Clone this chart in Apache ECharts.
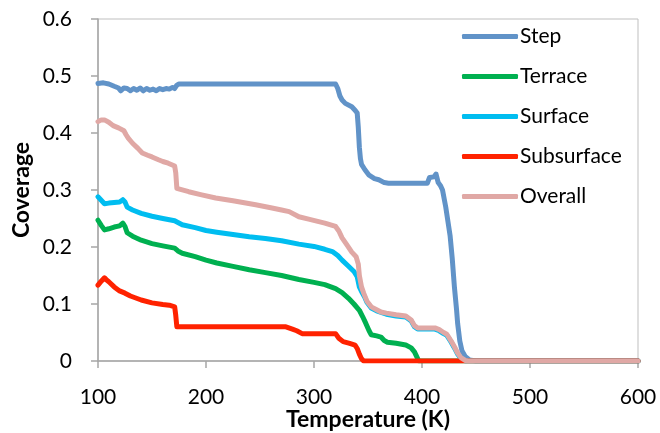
<!DOCTYPE html>
<html>
<head>
<meta charset="utf-8">
<script src="https://cdn.jsdelivr.net/npm/echarts@6/dist/echarts.min.js"></script>
<style>
html,body{margin:0;padding:0;background:#fff;}
#chart{width:660px;height:433px;}
</style>
</head>
<body>
<div id="chart"></div>
<script>
const seriesNames = ["Step", "Terrace", "Surface", "Subsurface", "Overall"];
const xTicks = [100, 200, 300, 400, 500, 600];
const yTicks = [0, 0.1, 0.2, 0.3, 0.4, 0.5, 0.6];

const stepData = [[100,0.487],[105,0.488],[110,0.486],[115,0.482],[119,0.479],[121,0.474],[124,0.479],[127,0.478],[130,0.474],[133,0.478],[136,0.475],[139,0.479],[142,0.474],[145,0.478],[148,0.475],[151,0.477],[154,0.474],[157,0.478],[160,0.476],[163,0.478],[166,0.477],[169,0.48],[171,0.478],[173,0.484],[175,0.486],[320,0.486],[322,0.478],[324,0.465],[326,0.458],[329,0.452],[335,0.446],[338,0.44],[340,0.435],[341,0.41],[342,0.375],[343,0.355],[344,0.345],[347,0.336],[351,0.326],[356,0.32],[360,0.318],[365,0.313],[369,0.312],[405,0.312],[407,0.322],[411,0.323],[413,0.328],[414,0.325],[415,0.313],[417,0.308],[419,0.3],[422,0.27],[424,0.245],[426,0.22],[428,0.18],[430,0.13],[432,0.09],[433,0.066],[435,0.035],[437,0.018],[440,0.008],[444,0.002],[450,0],[600,0]];

const terraceData = [[100,0.247],[103,0.238],[106,0.23],[110,0.232],[115,0.235],[120,0.237],[123,0.242],[125,0.236],[127,0.225],[132,0.219],[140,0.212],[150,0.206],[160,0.202],[171,0.198],[174,0.193],[178,0.189],[190,0.183],[200,0.177],[210,0.172],[225,0.166],[240,0.16],[255,0.155],[270,0.15],[286,0.143],[300,0.138],[310,0.134],[320,0.127],[326,0.12],[332,0.11],[337,0.1],[342,0.089],[345,0.078],[348,0.066],[351,0.053],[353,0.046],[358,0.044],[362,0.042],[365,0.036],[368,0.033],[376,0.031],[385,0.028],[390,0.023],[393,0.016],[395,0.008],[397,0],[600,0]];

const surfaceData = [[100,0.288],[103,0.282],[106,0.276],[110,0.277],[115,0.278],[120,0.279],[123,0.283],[125,0.279],[127,0.27],[132,0.265],[140,0.259],[150,0.254],[160,0.25],[171,0.246],[174,0.243],[178,0.239],[190,0.234],[200,0.229],[210,0.226],[225,0.222],[240,0.218],[255,0.215],[270,0.211],[286,0.205],[300,0.201],[310,0.196],[317,0.192],[322,0.185],[326,0.177],[331,0.168],[337,0.157],[340,0.148],[342,0.13],[344,0.122],[347,0.112],[349,0.103],[353,0.093],[358,0.088],[367,0.082],[376,0.079],[385,0.077],[390,0.07],[393,0.06],[396,0.056],[412,0.056],[416,0.053],[420,0.048],[423,0.045],[427,0.033],[430,0.023],[433,0.012],[436,0.005],[440,0],[600,0]];

const subsurfaceData = [[100,0.133],[103,0.14],[106,0.146],[108,0.142],[110,0.139],[115,0.13],[120,0.123],[125,0.119],[130,0.114],[140,0.107],[150,0.102],[160,0.099],[166,0.098],[171,0.095],[172,0.08],[173,0.06],[274,0.06],[280,0.056],[284,0.053],[289,0.048],[320,0.048],[323,0.04],[327,0.034],[333,0.031],[338,0.028],[340,0.022],[342,0.012],[344,0.004],[346,0],[600,0]];

const overallData = [[100,0.42],[103,0.423],[106,0.423],[110,0.419],[114,0.413],[119,0.409],[124,0.404],[126,0.397],[128,0.391],[132,0.382],[137,0.373],[141,0.365],[146,0.361],[150,0.358],[156,0.353],[160,0.35],[165,0.347],[171,0.342],[172,0.33],[173,0.303],[184,0.297],[195,0.292],[209,0.286],[225,0.281],[246,0.274],[260,0.269],[270,0.265],[277,0.262],[286,0.253],[295,0.249],[310,0.242],[320,0.236],[323,0.228],[326,0.216],[330,0.205],[335,0.191],[339,0.183],[341,0.17],[342,0.15],[344,0.13],[346,0.119],[349,0.105],[353,0.095],[358,0.09],[362,0.086],[367,0.084],[376,0.081],[385,0.079],[390,0.072],[393,0.062],[396,0.058],[412,0.058],[416,0.055],[420,0.05],[423,0.047],[427,0.035],[430,0.025],[433,0.014],[436,0.006],[440,0.001],[443,0],[600,0]];

const allData = [stepData, terraceData, surfaceData, subsurfaceData, overallData];
const colors = ["#6193C8", "#00B050", "#00BDF0", "#FF2200", "#E0A8A5"];

const FONT = "Lato";
const chart = echarts.init(document.getElementById("chart"), null, {renderer: "canvas"});
chart.setOption({
  animation: false,
  backgroundColor: "#ffffff",
  textStyle: {fontFamily: FONT, color: "#000"},
  grid: {left: 98, right: 22, top: 19, bottom: 72, containLabel: false, outerBoundsMode: "none", show: true, borderColor: "#BFBFBF", borderWidth: 1, backgroundColor: "transparent"},
  legend: {
    orient: "vertical",
    left: 457,
    top: 21,
    icon: "roundRect",
    itemWidth: 56,
    itemHeight: 5,
    itemGap: 19,
    data: seriesNames,
    textStyle: {fontFamily: FONT, fontSize: 21, color: "#000", padding: [0,0,0,-3]}
  },
  xAxis: {
    type: "value",
    min: xTicks[0],
    max: xTicks[xTicks.length - 1],
    interval: xTicks[1] - xTicks[0],
    name: "Temperature (K)",
    nameLocation: "middle",
    nameGap: 47,
    nameMoveOverlap: false,
    nameTextStyle: {fontFamily: FONT, fontSize: 23, fontWeight: "bold", color: "#000"},
    axisLine: {show: true, lineStyle: {color: "#A6A6A6", width: 1.5}},
    axisTick: {show: true, inside: false, length: 7, lineStyle: {color: "#A6A6A6", width: 1.5}},
    axisLabel: {fontFamily: FONT, fontSize: 21, color: "#000", margin: 26},
    splitLine: {show: false}
  },
  yAxis: {
    type: "value",
    min: yTicks[0],
    max: yTicks[yTicks.length - 1],
    interval: 0.1,
    name: "Coverage",
    nameLocation: "middle",
    nameGap: 65,
    nameMoveOverlap: false,
    nameTextStyle: {fontFamily: FONT, fontSize: 23, fontWeight: "bold", color: "#000"},
    axisLine: {show: true, lineStyle: {color: "#A6A6A6", width: 1.5}},
    axisTick: {show: true, inside: false, length: 7, lineStyle: {color: "#A6A6A6", width: 1.5}},
    axisLabel: {fontFamily: FONT, fontSize: 21, color: "#000", margin: 26, padding: [6,0,0,0]},
    splitLine: {show: false}
  },
  series: seriesNames.map((n, i) => ({
    name: n,
    type: "line",
    data: allData[i],
    symbol: "none",
    showSymbol: false,
    color: colors[i],
    itemStyle: {color: colors[i]},
    lineStyle: {color: colors[i], width: 5, cap: "round", join: "round"},
    z: 2 + i
  }))
});
</script>
</body>
</html>
